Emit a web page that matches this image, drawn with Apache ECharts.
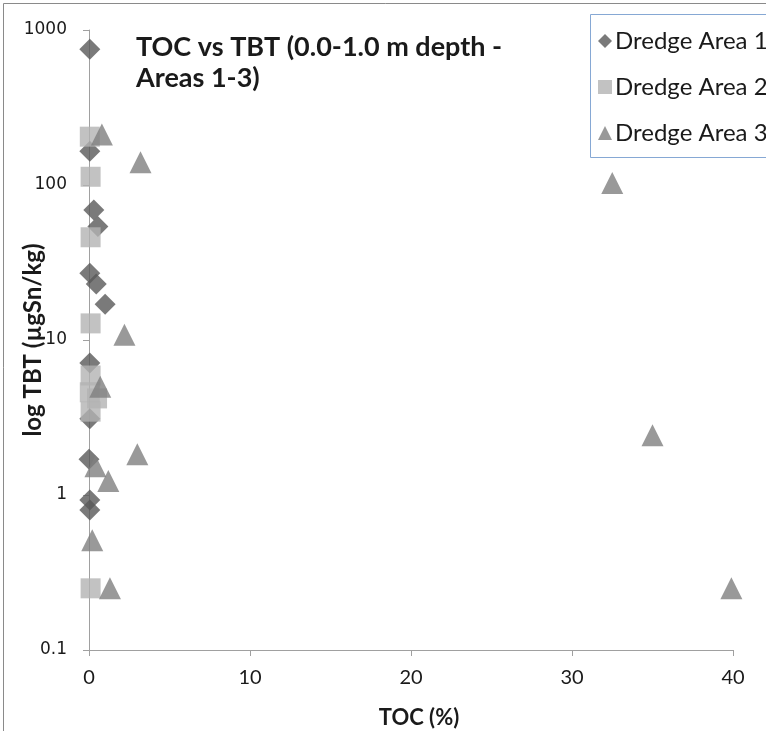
<!DOCTYPE html>
<html>
<head>
<meta charset="utf-8">
<title>TOC vs TBT</title>
<script src="https://cdn.jsdelivr.net/npm/echarts@6/dist/echarts.min.js"></script>
<style>
  html, body { margin: 0; padding: 0; background: #ffffff; }
  #chart { width: 766px; height: 731px; }
</style>
</head>
<body>
<div id="chart"></div>
<script>
// Sample values: total organic carbon (%) against tributyltin (µgSn/kg)
const seriesNames = ['Dredge Area 1', 'Dredge Area 2', 'Dredge Area 3'];

const area1TOC = [0.05, 0.05, 0.3, 0.55, 0.05, 0.45, 1.0, 0.05, 0.05, 0.0, 0.05, 0.05];
const area1TBT = [750, 165, 69, 54, 27, 23, 17, 7.1, 3.1, 1.7, 0.93, 0.8];

const area2TOC = [0.05, 0.1, 0.1, 0.1, 0.1, 0.05, 0.5, 0.1, 0.1];
const area2TBT = [205, 113, 46, 12.8, 5.9, 4.6, 4.2, 3.45, 0.25];

const area3TOC = [0.8, 3.2, 32.5, 2.2, 0.7, 3.0, 0.4, 1.2, 0.2, 1.3, 35.0, 39.9];
const area3TBT = [212, 140, 103, 10.8, 5.0, 1.83, 1.53, 1.23, 0.51, 0.25, 2.43, 0.25];

const xTicks = [0, 10, 20, 30, 40];
const yTicks = [0.1, 1, 10, 100, 1000];

function pairs(xs, ys) {
  return xs.map((x, i) => [x, ys[i]]);
}

const chart = echarts.init(document.getElementById('chart'), null, { renderer: 'canvas' });

const axisGrey = '#a0a0a0';
const textDark = '#1a1a1a';

chart.setOption({
  backgroundColor: '#ffffff',
  animation: false,
  graphic: [
    {
      // chart-area frame (left and top edges visible)
      type: 'rect',
      shape: { x: 3.5, y: 3.5, width: 900, height: 900 },
      style: { fill: 'none', stroke: '#8a8a8a', lineWidth: 1 },
      z: 0
    },
    {
      // legend frame running past the right edge
      type: 'rect',
      shape: { x: 590.5, y: 14.5, width: 300, height: 143 },
      style: { fill: '#ffffff', stroke: '#86a8d4', lineWidth: 1 },
      z: 1
    }
  ],
  title: {
    text: 'TOC vs TBT (0.0-1.0 m depth -\nAreas 1-3)',
    left: 136,
    top: 32,
    padding: 0,
    textStyle: {
      fontFamily: 'Lato',
      fontWeight: 'bold',
      fontSize: 27,
      lineHeight: 31,
      color: textDark
    }
  },
  legend: {
    orient: 'vertical',
    left: 598,
    top: 29,
    padding: 0,
    itemGap: 22,
    itemWidth: 14,
    itemHeight: 14,
    textStyle: { fontFamily: 'Lato', fontSize: 24, color: textDark, padding: [0, 0, 0, -2] },
    data: seriesNames,
    z: 5
  },
  grid: { left: 89, right: 33, top: 30, bottom: 81, containLabel: false, outerBoundsMode: 'none' },
  xAxis: {
    type: 'value',
    min: 0,
    max: 40,
    interval: 10,
    name: 'TOC (%)',
    nameLocation: 'middle',
    nameGap: 57,
    nameMoveOverlap: false,
    nameTextStyle: { fontFamily: 'Lato', fontWeight: 'bold', fontSize: 22, color: textDark, padding: [0, 0, 0, 16] },
    axisLine: { show: true, lineStyle: { color: axisGrey, width: 1 } },
    axisTick: { show: true, length: 6, inside: false, lineStyle: { color: axisGrey } },
    axisLabel: {
      margin: 18,
      fontFamily: 'Lato',
      fontSize: 20,
      color: textDark,
      formatter: v => (xTicks.includes(v) ? String(v) : '')
    },
    splitLine: { show: false }
  },
  yAxis: {
    type: 'log',
    logBase: 10,
    min: 0.1,
    max: 1000,
    name: 'log TBT (µgSn/kg)',
    nameLocation: 'middle',
    nameGap: 44,
    nameRotate: 90,
    nameMoveOverlap: false,
    nameTextStyle: { fontFamily: 'Lato', fontWeight: 'bold', fontSize: 24, color: textDark },
    axisLine: { show: true, onZero: false, lineStyle: { color: axisGrey, width: 1 } },
    axisTick: { show: true, length: 6, inside: false, lineStyle: { color: axisGrey } },
    axisLabel: {
      margin: 22,
      fontFamily: 'DejaVu Sans',
      fontSize: 17,
      color: textDark,
      formatter: v => {
        const hit = yTicks.find(t => Math.abs(t - v) / t < 1e-6);
        return hit === undefined ? '' : String(hit);
      }
    },
    splitLine: { show: false }
  },
  series: [
    {
      name: seriesNames[0],
      type: 'scatter',
      symbol: 'diamond',
      symbolSize: [21, 21],
      itemStyle: { color: '#595959' },
      data: pairs(area1TOC, area1TBT),
      z: 2
    },
    {
      name: seriesNames[1],
      type: 'scatter',
      symbol: 'rect',
      symbolSize: [20, 20],
      itemStyle: { color: '#b3b3b3' },
      data: pairs(area2TOC, area2TBT),
      z: 3
    },
    {
      name: seriesNames[2],
      type: 'scatter',
      symbol: 'triangle',
      symbolSize: [22, 22],
      itemStyle: { color: '#7f7f7f' },
      data: pairs(area3TOC, area3TBT),
      z: 4
    }
  ]
});
</script>
</body>
</html>
